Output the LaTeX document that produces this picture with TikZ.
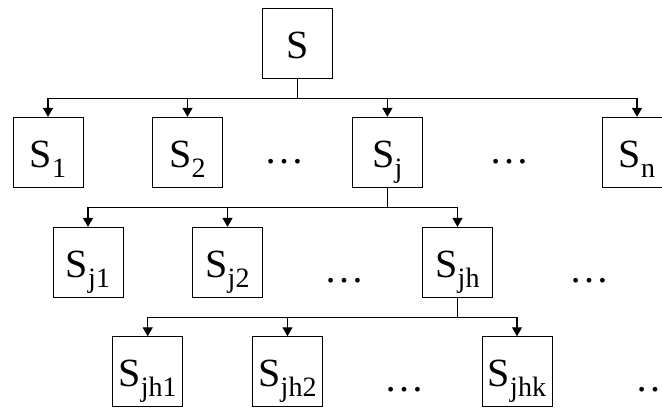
\documentclass[tikz,border=0pt]{standalone}
\usepackage{fontspec}
\setmainfont{Liberation Serif}
\usetikzlibrary{arrows.meta,positioning}
\newcommand{\lowsub}[1]{\raisebox{-5pt}{\fontsize{14pt}{14pt}\selectfont #1}}
\tikzset{
    subset/.style={draw, line width=0.45pt, minimum width=35pt, minimum height=35pt, inner sep=0pt,
                   text height=25pt, text depth=10pt, font=\fontsize{20pt}{24pt}\selectfont},
    link/.style={draw, line width=0.7pt, -{Triangle[width=5pt,length=4.5pt]}},
    ellip/.style={inner sep=0pt, font=\fontsize{20pt}{24pt}\selectfont}
}
\begin{document}
\begin{tikzpicture}[x=0.5pt, y=-0.5pt]
\useasboundingbox (0,0) rectangle (662,411);
\clip (0,0) rectangle (662,411);

% Root set
\node[subset] (S) at (297.6,43.3) {S};

% First level
\node[subset] (S1) at (48,152.3)    {S\lowsub{1}};
\node[subset] (S2) at (187.5,152.3) {S\lowsub{2}};
\node[subset] (Sj) at (387.4,152.3) {S\lowsub{j}};
\node[subset] (Sn) at (637,152.3)   {S\lowsub{n}};

% Second level
\node[subset] (Sj1) at (88,262.3)    {S\lowsub{j1}};
\node[subset] (Sj2) at (227.5,262.3) {S\lowsub{j2}};
\node[subset] (Sjh) at (457.5,262.3) {S\lowsub{jh}};

% Third level
\node[subset] (Sjh1) at (147.7,371.7) {S\lowsub{jh1}};
\node[subset] (Sjh2) at (287.5,371.7) {S\lowsub{jh2}};
\node[subset] (Sjhk) at (517,371.7)   {S\lowsub{jhk}};

% Omitted sets
\node[ellip] (d1) at (284.7,161.7) {\dots};
\node[ellip] (d2) at (509.3,161.7) {\dots};
\node[ellip] (d3) at (344.7,281)   {\dots};
\node[ellip] (d4) at (589,281)     {\dots};
\node[ellip] (d5) at (404.5,390)   {\dots};
\node[ellip] (d6) at (655,390)     {\dots};

% Splitting connectors
\foreach \c in {S1,S2,Sj,Sn}
    \draw[link] (S.south) -- ++(0,19.5) -| (\c.north);
\foreach \c in {Sj1,Sj2,Sjh}
    \draw[link] (Sj.south) -- ++(0,19.5) -| (\c.north);
\foreach \c in {Sjh1,Sjh2,Sjhk}
    \draw[link] (Sjh.south) -- ++(0,19.5) -| (\c.north);
\end{tikzpicture}
\end{document}
